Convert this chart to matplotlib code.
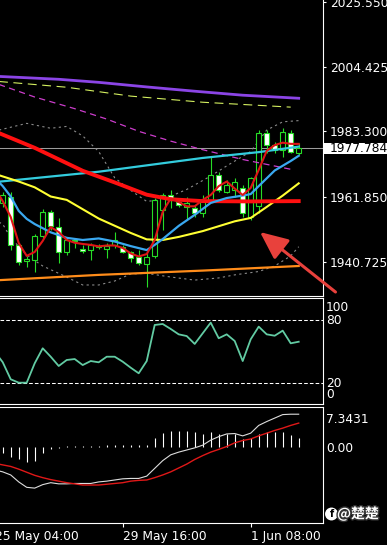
import numpy as np
import matplotlib
matplotlib.use("Agg")
import matplotlib.pyplot as plt
import matplotlib.patheffects as pe
from matplotlib.patches import Rectangle
from matplotlib.transforms import blended_transform_factory

plt.rcParams['font.family'] = ['DejaVu Sans']

# XAUUSD H4 candles
opens = [1960.0, 1961.9, 1946.2, 1941.0, 1941.3, 1949.1, 1957.0, 1952.0, 1944.0, 1947.8,
         1945.0, 1944.5, 1945.5, 1945.0, 1946.2, 1945.6, 1944.0, 1942.2, 1940.0, 1942.6,
         1957.6, 1962.5, 1960.3, 1958.7, 1958.1, 1956.5, 1960.9, 1969.0, 1963.6, 1964.1,
         1964.7, 1955.4, 1959.0, 1982.6, 1978.8, 1977.2, 1982.8, 1976.2]
highs = [1963.5, 1963.6, 1946.8, 1942.5, 1949.8, 1957.9, 1957.6, 1955.0, 1948.5, 1948.5,
         1946.2, 1946.7, 1946.5, 1946.7, 1950.5, 1946.0, 1944.3, 1944.5, 1943.4, 1961.4,
         1963.1, 1964.1, 1961.4, 1961.9, 1959.2, 1962.5, 1975.0, 1970.1, 1967.4, 1967.9,
         1965.8, 1968.5, 1983.7, 1983.7, 1979.9, 1984.3, 1983.7, 1979.4]
lows = [1958.5, 1944.5, 1939.6, 1939.0, 1937.5, 1948.5, 1951.1, 1940.3, 1943.0, 1945.3,
        1943.5, 1941.3, 1944.8, 1941.9, 1945.1, 1943.5, 1940.7, 1939.6, 1932.5, 1942.0,
        1951.1, 1958.1, 1958.7, 1954.3, 1955.4, 1955.4, 1960.2, 1963.6, 1963.1, 1961.9,
        1955.4, 1954.3, 1956.5, 1976.1, 1976.1, 1975.0, 1976.1, 1975.6]
closes = [1962.5, 1946.2, 1940.7, 1941.6, 1949.1, 1957.0, 1952.4, 1944.0, 1947.8, 1947.5,
          1944.3, 1946.2, 1945.8, 1945.8, 1947.8, 1944.0, 1941.8, 1940.2, 1942.4, 1960.9,
          1962.5, 1961.4, 1959.2, 1959.8, 1956.7, 1960.9, 1969.0, 1964.1, 1965.8, 1966.8,
          1956.5, 1967.9, 1982.6, 1978.8, 1977.2, 1983.2, 1976.7, 1977.784]

# moving averages / bands (candle index, price)
purple_idx = [-1, 7, 12, 18, 24, 30, 37]
purple = [2001.3, 2000.3, 1999.3, 1997.8, 1996.4, 1995.1, 1994.1]
lime_idx = [-1, 8, 16, 25, 36]
lime = [1999.7, 1997.7, 1994.8, 1992.8, 1991.2]
magenta_idx = [-1, 4, 9, 13, 17, 21, 25, 30, 36]
magenta = [1999.1, 1994.5, 1990.7, 1987.3, 1983.3, 1980.1, 1977.3, 1974.1, 1970.9]
slow_red_idx = [-1, 4, 10, 14, 18, 21, 25, 31, 37]
slow_red = [1983.3, 1977.9, 1970.4, 1966.6, 1962.6, 1961.1, 1960.5, 1960.4, 1960.5]
cyan_idx = [-1, 12, 25, 32, 37]
cyan = [1966.7, 1970.1, 1974.6, 1976.5, 1978.3]
yellow_idx = [-1, 2, 4, 6, 8, 12, 16, 18, 20, 22, 25, 29, 31, 33, 35, 37]
yellow = [1969.4, 1966.9, 1965.0, 1962.0, 1960.9, 1954.8, 1950.1, 1948.0, 1947.8, 1948.8,
          1950.7, 1953.9, 1955.0, 1958.6, 1962.3, 1966.3]
blue_idx = [-1, 0, 1, 2, 3, 4, 6, 8, 10, 12, 14, 16, 18, 19, 20, 22, 24, 26, 28, 30, 31,
            32, 34, 36, 37]
blue = [1968.1, 1965.4, 1962.0, 1957.3, 1954.7, 1953.0, 1950.3, 1948.5, 1947.8, 1948.3,
        1947.3, 1945.8, 1944.5, 1946.2, 1948.1, 1952.4, 1956.0, 1959.9, 1961.5, 1962.3,
        1962.8, 1965.4, 1970.5, 1973.6, 1975.3]
fast_red_idx = list(range(-1, 38))
fast_red = [1964.8, 1960.5, 1955.3, 1946.8, 1942.6, 1943.9, 1947.5, 1952.0, 1950.4, 1947.8,
            1946.9, 1946.5, 1946.2, 1945.7, 1946.0, 1946.0, 1945.2, 1943.4, 1942.4, 1943.2,
            1947.8, 1957.0, 1961.4, 1960.2, 1958.8, 1958.8, 1960.9, 1962.5, 1965.4, 1966.9,
            1964.6, 1962.5, 1964.8, 1970.7, 1976.9, 1978.8, 1979.6, 1979.2, 1979.2]
bb_up_idx = [-1, 0, 3, 6, 8, 10, 12, 14, 16, 18, 20, 23, 26, 28, 31, 33, 35, 37]
bb_up = [1983.4, 1984.0, 1985.9, 1984.3, 1984.9, 1981.8, 1976.7, 1968.1, 1964.0, 1960.4,
         1961.0, 1964.3, 1968.7, 1972.0, 1976.7, 1983.7, 1986.4, 1986.8]
bb_low_idx = [-1, 0, 1, 3, 5, 8, 10, 12, 14, 16, 18, 21, 24, 27, 29, 32, 34, 36, 37]
bb_low = [1954.3, 1953.0, 1948.5, 1942.9, 1939.3, 1935.7, 1933.1, 1933.1, 1934.4, 1936.7,
          1936.9, 1935.7, 1934.7, 1935.4, 1936.4, 1937.5, 1939.3, 1942.6, 1945.6]
orange_idx = [-1, 12, 25, 37]
orange = [1934.6, 1936.4, 1937.8, 1939.3]

price_ticks = [2025.550, 2004.425, 1983.300, 1961.850, 1940.725]

# RSI
rsi_idx = list(range(-1, 38))
rsi = [50.0, 40.0, 23.8, 20.6, 20.6, 39.0, 53.2, 45.2, 36.4, 42.1, 43.0, 37.3, 41.1, 39.9,
       45.2, 45.2, 40.5, 34.8, 29.5, 41.1, 75.3, 76.2, 71.5, 66.4, 64.8, 57.3, 67.4, 77.5,
       62.7, 66.4, 60.1, 41.1, 61.7, 73.7, 66.4, 65.1, 69.9, 57.9, 59.4]
rsi_levels = [100, 80, 20, 0]

# MACD
macd_idx = list(range(-1, 38))
macd = [-6.0, -6.5, -7.3, -9.1, -10.5, -10.7, -9.8, -9.3, -9.6, -9.6, -9.5, -9.5, -9.5,
        -9.1, -8.9, -8.6, -8.3, -8.2, -8.2, -7.6, -5.6, -3.6, -2.1, -1.4, -0.85, -0.3, 0.4,
        1.7, 2.6, 3.3, 3.4, 2.8, 3.5, 5.5, 6.5, 7.4, 8.3, 8.4, 8.4]
signal = [-4.3, -4.7, -5.1, -5.8, -6.6, -7.4, -8.0, -8.5, -8.9, -9.3, -9.6, -9.9, -9.9,
          -9.9, -9.7, -9.5, -9.3, -8.9, -8.7, -8.6, -8.0, -7.3, -6.5, -5.5, -4.5, -3.3, -2.3,
          -1.4, -0.7, 0.05, 1.0, 1.6, 2.0, 2.8, 3.5, 4.2, 4.8, 5.5, 6.1]
hist = [-1.7, -2.6, -3.3, -3.9, -3.7, -1.7, -0.7, -0.3, 0.3, 0.3, 0.3, 0.3, 0.3, 0.4, 0.4,
        0.4, 0.4, 0.5, 0.5, 2.2, 3.6, 4.1, 4.1, 4.1, 3.9, 3.4, 3.7, 3.2, 3.2, 3.2, 1.9, 2.2,
        3.4, 3.7, 3.9, 3.7, 3.0, 2.3]
macd_ticks = [7.3431, 0.0]
macd_ticklabels = ['7.3431', '0.00']

time_idx = [-1, 15, 31]
time_labels = ['25 May 04:00', '29 May 16:00', '1 Jun 08:00']

GREEN = '#26DD26'
W, H = 387, 545


def box(x0, y0, x1, y1):
    return [x0 / W, 1 - y1 / H, (x1 - x0) / W, (y1 - y0) / H]


fig = plt.figure(figsize=(3.87, 5.45), dpi=100, facecolor='black')
ax = fig.add_axes(box(0, 0, 322.7, 296))
ax_rsi = fig.add_axes(box(0, 298, 322.7, 404.3))
ax_macd = fig.add_axes(box(0, 406.7, 322.7, 522.7))

for a in (ax, ax_rsi, ax_macd):
    a.set_facecolor('black')
    a.set_xlim(-0.34, 40.0)
    for s in ('left', 'top', 'bottom', 'right'):
        a.spines[s].set_color('white')
        a.spines[s].set_linewidth(0.8)
    a.spines['left'].set_visible(False)
    a.tick_params(axis='x', bottom=False, labelbottom=False)
    a.yaxis.tick_right()
ax.spines['top'].set_visible(False)

# ---- price panel
ax.set_ylim(1929.5, 2026.2)
o = np.array(opens); c = np.array(closes)
idx = np.arange(len(o))
bull = c >= o
ax.vlines(idx, lows, highs, color=GREEN, lw=0.8, zorder=2)
ax.bar(idx, np.maximum(np.abs(c - o), 0.2), bottom=np.minimum(o, c), width=0.6,
       color=np.where(bull, 'black', 'white'), edgecolor=GREEN, linewidth=0.8, zorder=2.2)

ax.axhline(closes[-1], color='#9c9c9c', lw=0.75, zorder=1.5)
ax.plot(bb_up_idx, bb_up, color='#8a8a8a', lw=0.8, ls=(0, (2, 3)), zorder=1.8)
ax.plot(bb_low_idx, bb_low, color='#8a8a8a', lw=0.8, ls=(0, (2, 3)), zorder=1.8)
ax.plot(orange_idx, orange, color='#FF8C1A', lw=1.6, zorder=3)
ax.plot(purple_idx, purple, color='#8B45E6', lw=2.0, zorder=3)
ax.plot(lime_idx, lime, color='#D4F060', lw=0.8, ls=(0, (8, 5)), zorder=3)
ax.plot(magenta_idx, magenta, color='#CC3DCC', lw=0.9, ls=(0, (5, 3.5)), zorder=3)
ax.plot(cyan_idx, cyan, color='#33CCDD', lw=1.6, zorder=3)
ax.plot(slow_red_idx, slow_red, color='#FF1010', lw=2.8, zorder=3.1)
ax.plot(yellow_idx, yellow, color='#FFFF33', lw=1.5, zorder=3)
ax.plot(blue_idx, blue, color='#3AA8F0', lw=1.6, zorder=3.2)
ax.plot(fast_red_idx, fast_red, color='#E01515', lw=1.5, zorder=3.3)

ax.set_yticks(price_ticks)
ax.set_yticklabels([f'{p:.3f}' for p in price_ticks])
ax.tick_params(axis='y', direction='out', length=2.2, width=0.8, color='white',
               labelcolor='white', labelsize=8.8, pad=3)

tr = blended_transform_factory(ax.transAxes, ax.transData)
ax.add_patch(Rectangle((1.004, closes[-1] - 1.75), 0.2, 3.5, transform=tr,
                       facecolor='white', edgecolor='none', clip_on=False, zorder=5))
ax.text(1.023, closes[-1], f'{closes[-1]:.3f}', transform=tr, ha='left', va='center',
        color='black', fontsize=8.8, zorder=6, clip_on=False)

# red arrow drawn on the screenshot
ax.annotate('', xy=(32.16, 1950.4), xytext=(41.6, 1930.8), annotation_clip=False,
            arrowprops=dict(arrowstyle='-|>,head_length=0.85,head_width=0.38',
                            mutation_scale=20, color='#E8413C', lw=2.2,
                            shrinkA=0, shrinkB=0), zorder=6)

# ---- RSI panel
ax_rsi.set_ylim(0.1, 100.85)
ax_rsi.set_yticks([])
ax_rsi.axhline(80, color='white', lw=0.75, ls=(0, (3.5, 2)))
ax_rsi.axhline(20, color='white', lw=0.75, ls=(0, (3.5, 2)))
ax_rsi.plot(rsi_idx, rsi, color='#62CBA3', lw=1.3)
tr_rsi = blended_transform_factory(ax_rsi.transAxes, ax_rsi.transData)
nudge = {100: -6.3, 80: -0.7, 20: 0.0, 0: 6.8}
for v in rsi_levels:
    ax_rsi.annotate(str(v), xy=(1, v), xycoords=tr_rsi, xytext=(2.4, nudge[v]),
                    textcoords='offset points', ha='left', va='center', color='white',
                    fontsize=8.8, annotation_clip=False)

# ---- MACD panel
ax_macd.set_ylim(-19.64, 10.34)
ax_macd.vlines(idx, 0, hist, color='white', lw=0.8)
ax_macd.plot(macd_idx, macd, color='#DDDDDD', lw=0.8)
ax_macd.plot(macd_idx, signal, color='#E01818', lw=1.0)
ax_macd.set_yticks(macd_ticks)
ax_macd.set_yticklabels(macd_ticklabels)
ax_macd.tick_params(axis='y', length=0, labelcolor='white', labelsize=8.8, pad=2.4)

ax_macd.set_xticks([t for t in time_idx if t >= 0])
ax_macd.tick_params(axis='x', bottom=True, direction='out', length=3, width=0.8,
                    color='white', labelbottom=False)
tr_x = blended_transform_factory(ax_macd.transData, ax_macd.transAxes)
for t, lab in zip(time_idx, time_labels):
    ax_macd.text(t, -0.115, lab, transform=tr_x, ha='left', va='center', color='white',
                 fontsize=8.8, clip_on=False)

# watermark
fig.text(331.5 / W, 1 - 514 / H, 'f', ha='center', va='center', color='black',
         fontsize=7, fontweight='bold',
         bbox=dict(boxstyle='circle,pad=0.15', fc='white', ec='none'))
fig.text(337 / W, 1 - 514 / H, '@楚楚', ha='left', va='center', color='white',
         fontsize=10, fontweight='bold', family=['Noto Sans CJK SC', 'DejaVu Sans'],
         path_effects=[pe.withStroke(linewidth=2, foreground='#333333')])

fig.savefig('out.png', dpi=100, facecolor='black')
